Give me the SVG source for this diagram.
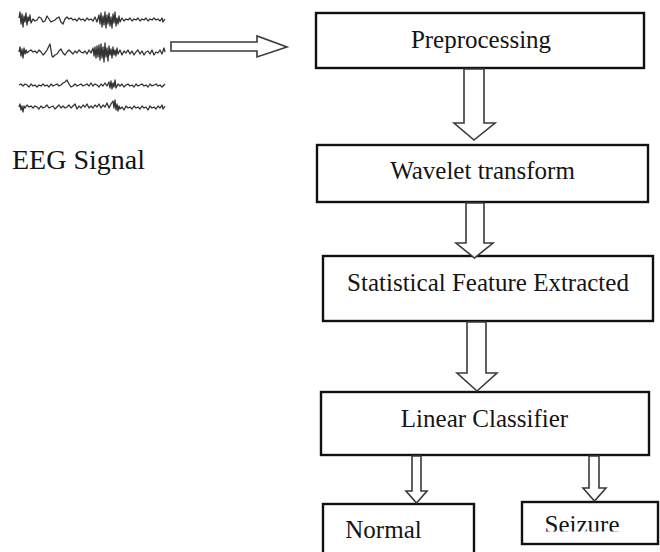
<svg xmlns="http://www.w3.org/2000/svg" width="660" height="552" viewBox="0 0 660 552">
<defs>
<style>
.box{fill:#fff;stroke:#111;stroke-width:2.4}
.arr{fill:#fff;stroke:#3a3a3a;stroke-width:1.6;stroke-linejoin:miter}
.sig{fill:none;stroke:#333;stroke-width:1.3;stroke-linejoin:round}
</style>
<clipPath id="clipSeizure"><rect x="522" y="502" width="136" height="29.5"/></clipPath>
</defs>
<rect width="660" height="552" fill="#fff"/>
<g id="eeg-signal">
<polyline class="sig" points="19,18 20,12 21,24 22,14 23,27 24,16 25,22 26,13 27,25 28,17 29,21 30,15 31,23 33,19 35,21 37,20 39,17 41,18 43,22 45,21 47,16 49,19 51,22 53,21 55,20 57,18 59,17 61,22 63,24 65,19 67,17 69,19 71,18 73,20 75,19 77,21 79,18 81,20 83,19 85,21 87,18 89,20 91,19 93,21 95,17 97,22 99,15 100,24 101,13 102,27 103,16 104,25 105,12 106,28 107,15 108,24 109,13 110,26 111,17 112,28 113,14 114,23 115,12 116,26 117,18 118,24 119,16 120,22 122,18 124,21 126,19 128,20 130,18 132,21 134,19 136,20 138,18 140,21 142,19 144,20 146,18 148,21 150,19 152,20 154,18 156,20 158,19 160,21 162,18 163,22 165,19"/>
<polyline class="sig" points="19,52 20,47 21,56 22,49 23,58 24,48 25,54 26,50 27,53 29,51 31,50 33,52 35,51 37,53 39,50 41,52 43,55 45,53 47,50 49,46 50,44 51,50 52,56 53,57 55,55 57,54 59,51 61,49 63,53 65,55 67,52 69,50 71,52 73,54 75,51 77,53 79,50 81,52 83,53 85,51 87,54 89,50 91,53 93,48 94,56 95,47 96,58 97,46 98,57 99,45 100,60 101,44 102,58 103,47 104,62 105,43 106,57 107,48 108,61 109,46 110,55 111,49 112,58 113,47 114,55 115,50 116,56 117,48 118,54 120,50 122,55 124,51 126,53 128,50 130,54 132,51 134,55 136,52 138,50 140,54 142,51 144,55 146,52 148,51 150,54 152,50 154,55 156,52 158,53 160,50 162,54 164,48 165,52"/>
<polyline class="sig" points="19,85 21,84 23,86 25,84 27,85 29,87 31,84 33,86 35,85 37,87 39,85 41,86 43,84 45,86 47,85 49,87 51,84 53,86 55,85 57,84 59,86 61,85 63,83 65,82 67,80 69,84 71,87 73,86 75,84 77,86 79,85 81,84 83,86 85,85 87,84 89,86 91,83 93,86 95,84 97,85 99,87 101,84 103,86 105,83 107,86 109,82 110,88 111,81 112,89 113,83 114,87 115,80 116,88 118,84 120,86 122,84 124,87 126,85 128,84 130,86 132,85 134,87 136,84 138,86 140,85 142,84 144,86 146,85 148,87 150,84 152,86 154,85 156,84 158,86 160,85 162,87 165,84"/>
<polyline class="sig" points="19,107 20,104 21,110 22,106 23,112 24,106 25,108 27,105 29,107 31,106 33,108 35,106 37,107 39,109 41,106 43,108 45,107 47,105 49,108 51,107 53,106 55,109 57,107 59,105 61,108 63,106 65,108 67,107 69,105 71,108 73,106 75,104 77,109 79,106 81,108 83,105 85,107 87,104 89,108 91,106 93,108 95,105 97,107 99,104 101,108 103,105 105,107 107,103 109,108 111,104 113,101 114,108 115,100 116,110 117,104 118,111 119,106 120,109 122,107 124,110 126,106 128,108 130,107 132,109 134,106 136,108 138,107 140,109 142,106 144,108 146,107 148,110 150,106 152,108 154,107 156,109 158,106 160,108 162,105 163,109 165,106"/>
<text x="12" y="169" font-family="Liberation Serif" font-size="28" fill="#141414">EEG Signal</text>
</g>
<g id="preprocessing">
<rect class="box" x="316" y="13" width="328" height="55"/>
<text x="481" y="48" font-family="Liberation Serif" font-size="25" fill="#141414" text-anchor="middle">Preprocessing</text>
</g>
<g id="wavelet-transform">
<rect class="box" x="317" y="145" width="331" height="57"/>
<text x="482.5" y="179" font-family="Liberation Serif" font-size="25" fill="#141414" text-anchor="middle">Wavelet transform</text>
</g>
<g id="statistical-feature">
<rect class="box" x="323" y="256" width="330" height="65"/>
<text x="488" y="291" font-family="Liberation Serif" font-size="25" fill="#141414" text-anchor="middle">Statistical Feature Extracted</text>
</g>
<g id="linear-classifier">
<rect class="box" x="321" y="392" width="328" height="63"/>
<text x="484.5" y="427" font-family="Liberation Serif" font-size="25" fill="#141414" text-anchor="middle">Linear Classifier</text>
</g>
<g id="normal">
<rect class="box" x="323" y="504" width="151" height="60"/>
<text x="383.5" y="538" font-family="Liberation Serif" font-size="25" fill="#141414" text-anchor="middle">Normal</text>
</g>
<g id="seizure">
<rect class="box" x="522" y="502" width="136" height="42"/>
<text x="582" y="533" font-family="Liberation Serif" font-size="25" fill="#141414" text-anchor="middle" clip-path="url(#clipSeizure)">Seizure</text>
</g>
<g id="connectors">
<polygon class="arr" points="171,42 257,42 257,36 287,47 257,57 257,51 171,51"/>
<polygon class="arr" points="464,69 484,69 484,123 495,123 474,140 454,123 464,123"/>
<polygon class="arr" points="466,203 484,203 484,243 493,243 474.5,258 456,243 466,243"/>
<polygon class="arr" points="467,322 486,322 486,373 497,373 477,391 457,373 467,373"/>
<polygon class="arr" points="412,456 421,456 421,491 427,491 416.5,503 406,491 412,491"/>
<polygon class="arr" points="589,456 599,456 599,488 606,488 594.5,501 583,488 589,488"/>
</g>
</svg>
